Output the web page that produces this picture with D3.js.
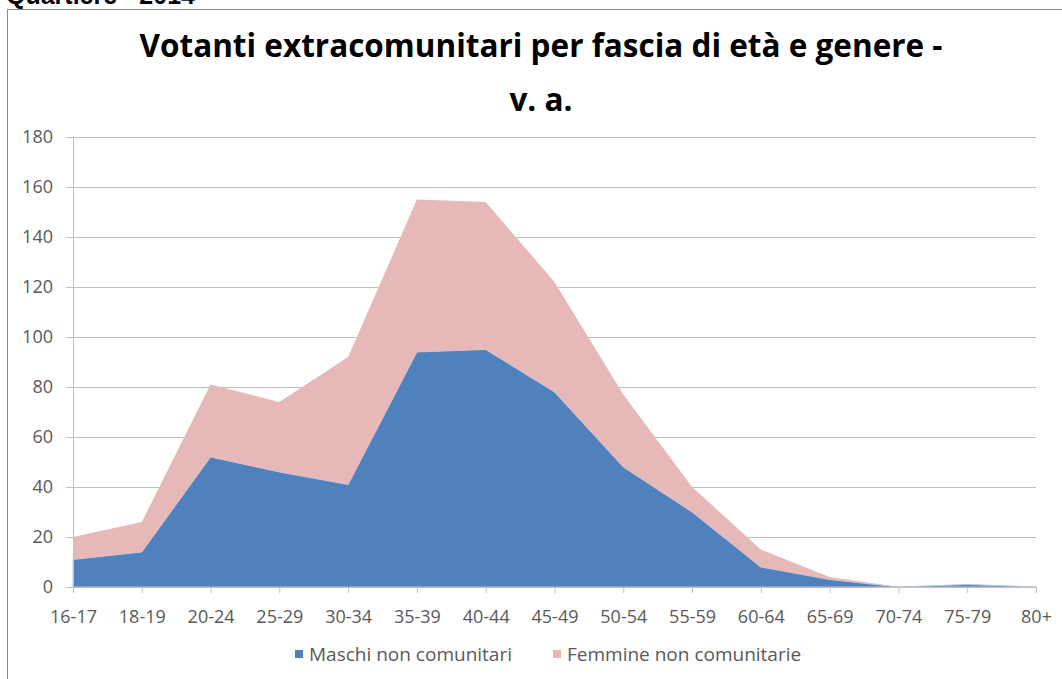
<!DOCTYPE html>
<html lang="it">

<head>
  <meta charset="UTF-8">
  <title>Votanti extracomunitari per fascia di età e genere</title>
  <script type="text/javascript" src="https://d3js.org/d3.v7.min.js"></script>
  <style>
    body { margin: 0; background: #fff; }
  </style>
</head>

<body>
  <svg width="1062" height="679"></svg>
</body>

<script>

  // dati
  const categories = ['16-17', '18-19', '20-24', '25-29', '30-34', '35-39', '40-44', '45-49',
    '50-54', '55-59', '60-64', '65-69', '70-74', '75-79', '80+'];
  const maschi = [11, 14, 52, 46, 41, 94, 95, 78, 48, 30, 8, 3, 0, 1, 0];
  const femmine = [9, 12, 29, 28, 51, 61, 59, 44, 29, 10, 7, 1, 0, 0, 0];
  const seriesNames = ['Maschi non comunitari', 'Femmine non comunitarie'];
  const yTicks = [0, 20, 40, 60, 80, 100, 120, 140, 160, 180];

  const colors = ['#4F81BD', '#E6B9B8'];
  const font = "'Open Sans', 'DejaVu Sans', sans-serif";

  const svg = d3.select("svg");

  // cornice del grafico
  svg.append("rect")
    .attr("x", 7.5)
    .attr("y", 9.5)
    .attr("width", 1070)
    .attr("height", 700)
    .attr("fill", "#fff")
    .attr("stroke", "#868686")
    .attr("stroke-width", 1);

  svg.append("text")
    .attr("x", 6)
    .attr("y", 4)
    .attr("font-family", "Arial, 'Liberation Sans', sans-serif")
    .attr("font-weight", "700")
    .attr("font-size", "25px")
    .attr("fill", "#000")
    .text("Quartiere - 2014");

  // titolo
  const title = svg.append("text")
    .attr("text-anchor", "middle")
    .attr("font-family", font)
    .attr("font-weight", "700")
    .attr("font-size", "31.5px")
    .attr("fill", "#000");
  title.append("tspan").attr("x", 541).attr("y", 57).text("Votanti extracomunitari per fascia di età e genere -");
  title.append("tspan").attr("x", 541).attr("y", 111).text("v. a.");

  const margin = { left: 73, top: 137, right: 1036, bottom: 587 };

  const x = d3.scalePoint()
    .domain(categories)
    .range([margin.left, margin.right]);

  const y = d3.scaleLinear()
    .domain([0, 180])
    .range([margin.bottom, margin.top]);

  // griglia
  svg.append("g")
    .selectAll("line")
    .data(yTicks)
    .join("line")
    .attr("x1", margin.left - 7)
    .attr("x2", margin.right)
    .attr("y1", d => Math.round(y(d)) + 0.5)
    .attr("y2", d => Math.round(y(d)) + 0.5)
    .attr("stroke", "#BFBFBF")
    .attr("stroke-width", 1);

  // aree impilate
  const table = categories.map((c, i) => ({ cat: c, m: maschi[i], f: femmine[i] }));
  const stack = d3.stack().keys(['m', 'f']);
  const layers = stack(table);

  const area = d3.area()
    .x(d => x(d.data.cat))
    .y0(d => y(d[0]))
    .y1(d => y(d[1]));

  svg.append("g")
    .selectAll("path")
    .data(layers)
    .join("path")
    .attr("d", area)
    .attr("fill", (d, i) => colors[i])
    .attr("stroke", (d, i) => i === 0 ? "#B9C6E0" : "none")
    .attr("stroke-width", 1);

  // assi
  const yAxis = svg.append("g")
    .attr("transform", "translate(" + margin.left + ",0)")
    .call(d3.axisLeft(y).tickValues(yTicks).tickSize(7).tickPadding(13));

  const xAxis = svg.append("g")
    .attr("transform", "translate(0," + margin.bottom + ")")
    .call(d3.axisBottom(x).tickSize(6).tickPadding(17));

  [yAxis, xAxis].forEach(ax => {
    ax.select(".domain").attr("stroke", "#BFBFBF");
    ax.selectAll(".tick line").attr("stroke", "#BFBFBF");
    ax.selectAll("text")
      .attr("font-family", font)
      .attr("font-size", "18px")
      .attr("fill", "#595959");
  });

  // legenda
  const legendX = [295, 553];
  const legend = svg.append("g")
    .selectAll("g")
    .data(seriesNames)
    .join("g")
    .attr("transform", (d, i) => "translate(" + legendX[i] + ",654)");

  legend.append("rect")
    .attr("x", 0)
    .attr("y", -4)
    .attr("width", 8)
    .attr("height", 8)
    .attr("fill", (d, i) => colors[i]);

  legend.append("text")
    .attr("x", 14)
    .attr("y", 7)
    .attr("font-family", font)
    .attr("font-size", "19px")
    .attr("fill", "#595959")
    .text(d => d);

</script>

</html>
